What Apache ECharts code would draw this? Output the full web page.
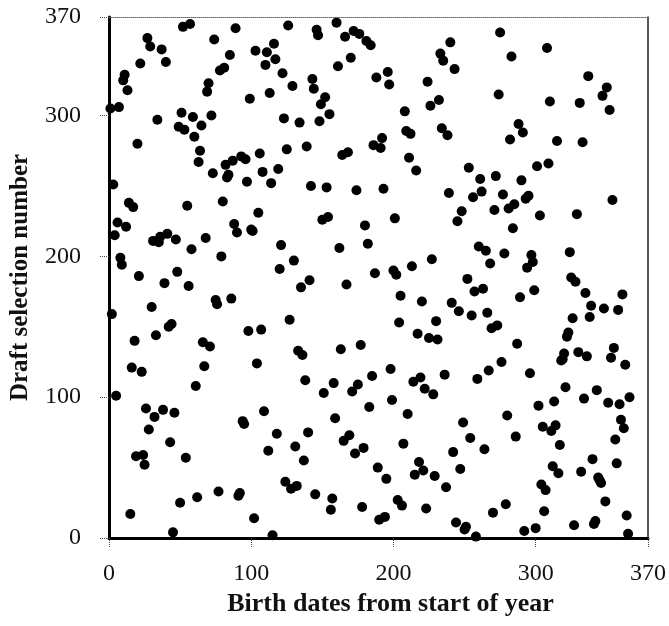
<!DOCTYPE html>
<html>
<head>
<meta charset="utf-8">
<script src="https://cdn.jsdelivr.net/npm/echarts@6/dist/echarts.min.js"></script>
<style>
  html, body { margin: 0; padding: 0; background: #fff; }
  #chart { width: 669px; height: 626px; }
</style>
</head>
<body>
<div id="chart"></div>
<script>
// draft numbers by birth day, month by month
const jan = [305, 159, 251, 215, 101, 224, 306, 199, 194, 325, 329, 221, 318, 238, 17, 121, 235, 140, 58, 280, 186, 337, 118, 59, 52, 92, 355, 77, 349, 164, 211];
const feb = [86, 144, 297, 210, 214, 347, 91, 181, 338, 216, 150, 68, 152, 4, 89, 212, 189, 292, 25, 302, 363, 290, 57, 236, 179, 365, 205, 299, 285];
const mar = [108, 29, 267, 275, 293, 139, 122, 213, 317, 323, 136, 300, 259, 354, 169, 166, 33, 332, 200, 239, 334, 265, 256, 258, 343, 170, 268, 223, 362, 217, 30];
const apr = [32, 271, 83, 81, 269, 253, 147, 312, 219, 218, 14, 346, 124, 231, 273, 148, 260, 90, 336, 345, 62, 316, 252, 2, 351, 340, 74, 262, 191, 208];
const may = [330, 298, 40, 276, 364, 155, 35, 321, 197, 65, 37, 133, 295, 178, 130, 55, 112, 278, 75, 183, 250, 326, 319, 31, 361, 357, 296, 308, 226, 103, 313];
const jun = [249, 228, 301, 20, 28, 110, 85, 366, 335, 206, 134, 272, 69, 356, 180, 274, 73, 341, 104, 360, 60, 247, 109, 358, 137, 22, 64, 222, 353, 209];
const jul = [93, 350, 115, 279, 188, 327, 50, 13, 277, 284, 248, 15, 42, 331, 322, 120, 98, 190, 227, 187, 27, 153, 172, 23, 67, 303, 289, 88, 270, 287, 193];
const aug = [111, 45, 261, 145, 54, 114, 168, 48, 106, 21, 324, 142, 307, 198, 102, 44, 154, 141, 311, 344, 291, 339, 116, 36, 286, 245, 352, 167, 61, 333, 11];
const sep = [225, 161, 49, 232, 82, 6, 8, 184, 263, 71, 158, 242, 175, 1, 113, 207, 255, 246, 177, 63, 204, 160, 119, 195, 149, 18, 233, 257, 151, 315];
const oct = [359, 125, 244, 202, 24, 87, 234, 283, 342, 220, 237, 72, 138, 294, 171, 254, 288, 5, 241, 192, 243, 117, 201, 196, 176, 7, 264, 94, 229, 38, 79];
const nov = [19, 34, 348, 266, 310, 76, 51, 97, 80, 282, 46, 66, 126, 127, 131, 107, 143, 146, 203, 185, 156, 9, 182, 230, 132, 309, 47, 281, 99, 174];
const dec = [129, 328, 157, 165, 56, 10, 12, 105, 43, 41, 39, 314, 163, 26, 320, 96, 304, 128, 240, 135, 70, 53, 162, 95, 84, 173, 78, 123, 16, 3, 100];

// axis ends and tick labels (the right edge is labelled 370 in the original)
const xMax = 379;
const yMax = 370;
const xRightLabel = "370";

const months = [jan, feb, mar, apr, may, jun, jul, aug, sep, oct, nov, dec];
let points = [];
let day = 1;
months.forEach((m) => {
  m.forEach((v) => {
    points.push([day, v]);
    day++;
  });
});

const chart = echarts.init(document.getElementById("chart"));

const serif = "'Liberation Serif', 'DejaVu Serif', serif";

const option = {
  backgroundColor: "#fff",
  animation: false,
  grid: { left: 108, right: 19, top: 17, bottom: 88 },
  xAxis: [
    {
      type: "value",
      min: 0,
      max: xMax,
      interval: 100,
      name: "Birth dates from start of year",
      nameLocation: "middle",
      nameGap: 51,
      nameTextStyle: {
        fontFamily: serif,
        fontWeight: "bold",
        fontSize: 26,
        color: "#111",
        padding: [0, 0, 0, 24],
      },
      axisLine: { show: true, onZero: false, lineStyle: { color: "#000", width: 3 } },
      axisTick: { show: true, length: 9, lineStyle: { color: "#444", width: 1, type: "dotted" } },
      axisLabel: {
        showMaxLabel: true,
        margin: 24,
        fontFamily: serif,
        fontSize: 24,
        color: "#111",
        formatter: (v) => (v === xMax ? xRightLabel : String(v)),
      },
      splitLine: { show: false },
    },
    {
      type: "value",
      position: "top",
      min: 0,
      max: xMax,
      axisLine: { show: true, onZero: false, lineStyle: { color: "#666", width: 1, type: "dotted" } },
      axisTick: { show: false },
      axisLabel: { show: false },
      splitLine: { show: false },
    },
  ],
  yAxis: [
    {
      type: "value",
      min: 0,
      max: yMax,
      interval: 100,
      name: "Draft selection number",
      nameLocation: "middle",
      nameGap: 76,
      nameTextStyle: {
        fontFamily: serif,
        fontWeight: "bold",
        fontSize: 25,
        color: "#111",
      },
      axisLine: { show: true, onZero: false, lineStyle: { color: "#000", width: 3 } },
      axisTick: { show: true, length: 10, lineStyle: { color: "#444", width: 1, type: "dotted" } },
      axisLabel: {
        showMaxLabel: true,
        margin: 28,
        fontFamily: serif,
        fontSize: 24,
        color: "#111",
      },
      splitLine: { show: false },
    },
    {
      type: "value",
      position: "right",
      min: 0,
      max: yMax,
      axisLine: { show: true, onZero: false, lineStyle: { color: "#222", width: 1.5 } },
      axisTick: { show: false },
      axisLabel: { show: false },
      splitLine: { show: false },
    },
  ],
  series: [
    {
      type: "scatter",
      data: points,
      symbol: "circle",
      symbolSize: 10,
      itemStyle: { color: "#000", opacity: 1 },
    },
  ],
};

chart.setOption(option);
</script>
</body>
</html>
